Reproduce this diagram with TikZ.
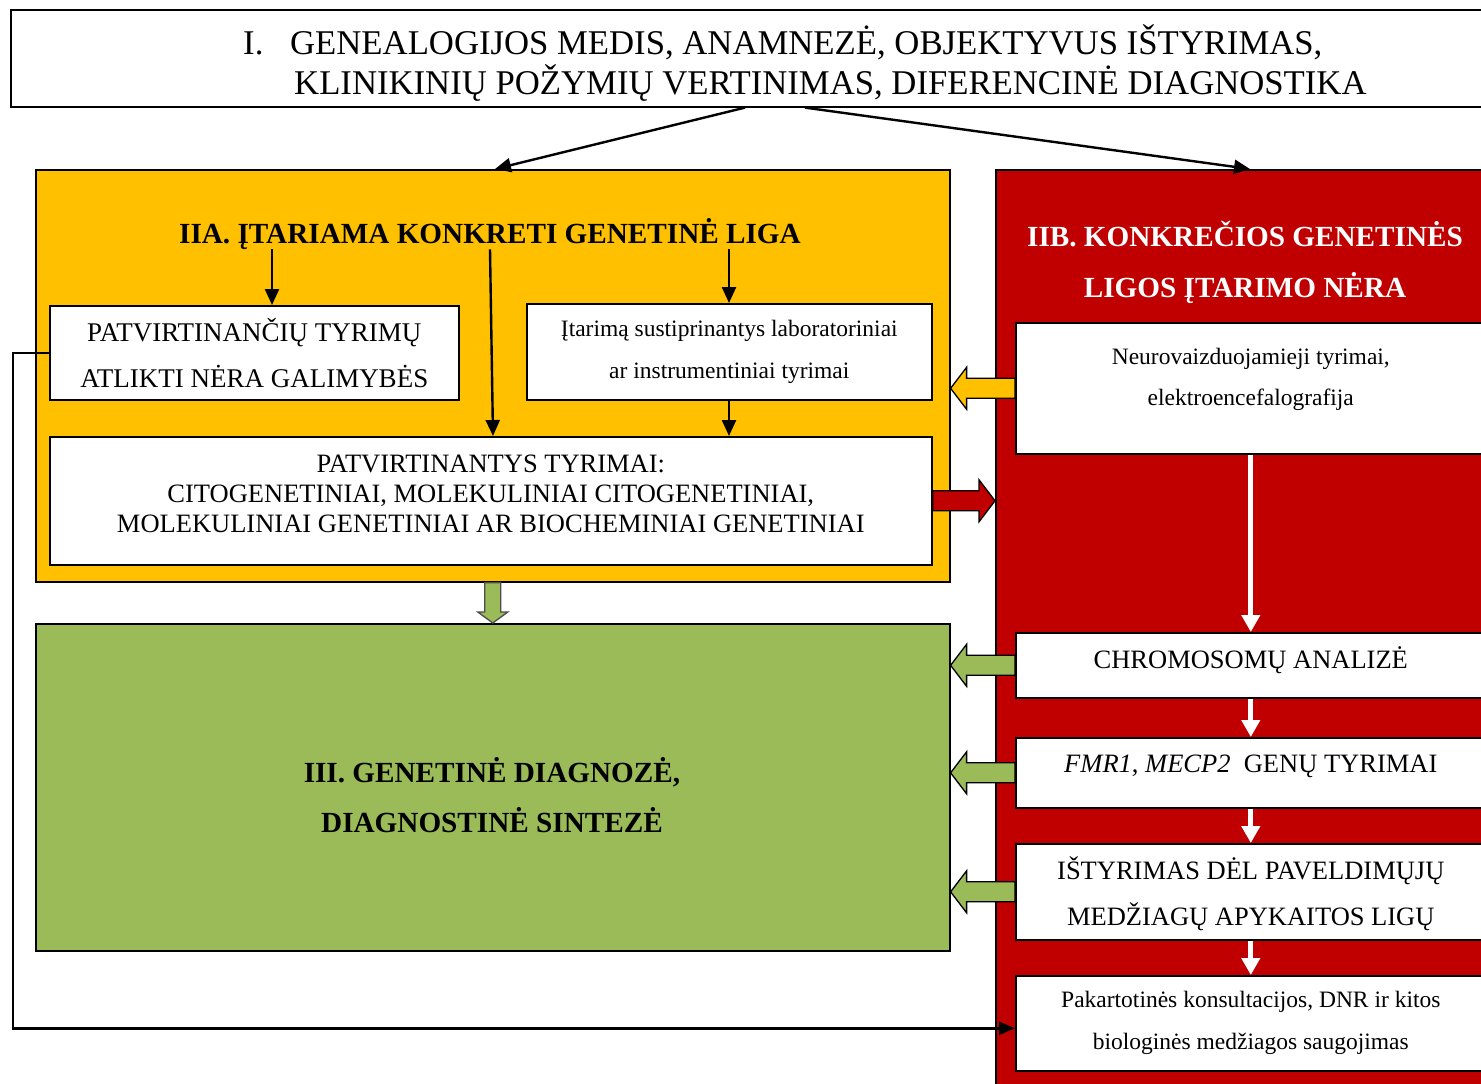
\documentclass[tikz,border=0pt]{standalone}
\usepackage{fontspec}
\setmainfont{Liberation Serif}
\usetikzlibrary{arrows.meta,positioning,calc}
\definecolor{ylw}{HTML}{FFC000}
\definecolor{rd}{HTML}{C00000}
\definecolor{grn}{HTML}{9BBB59}
\newcommand{\fs}[2]{\fontsize{#1pt}{#2pt}\selectfont}
\newcommand{\rows}[1]{\begin{tabular}[t]{@{}c@{}}#1\end{tabular}}
% block arrow: start, tip, colour, side (1 = points left, -1 = points right)
\newcommand{\hblock}[4]{%
  \draw[gblock, fill=#3] ($(#1)+(0,-10)$) -- ($(#2)+(#4*16,-10)$) -- ($(#2)+(#4*16,-21)$)
    -- (#2) -- ($(#2)+(#4*16,21)$) -- ($(#2)+(#4*16,10)$) -- ($(#1)+(0,10)$) -- cycle;}
\tikzset{
  gbox/.style={draw, line width=1.6pt, rectangle, anchor=north west, inner sep=0pt},
  gtext/.style={inner sep=0pt, anchor=base},
  garrow/.style={-{Triangle[length=16pt, width=14pt]}, line width=2.4pt},
  gwarrow/.style={-{Triangle[length=17pt, width=18pt]}, line width=5pt, white},
  gblock/.style={draw, line width=1.3pt, line join=miter},
}
\begin{document}
\begin{tikzpicture}[x=1pt, y=-1pt]
  \useasboundingbox (0,0) rectangle (1481,1084);
  \clip (0,0) rectangle (1481,1084);

  % stage I
  \node[gbox, minimum width=1490pt, minimum height=97pt] (diag) at (10,9) {};
  \node[gtext, anchor=base west, font=\fs{34.7}{37}] (diagtxt) at (243,54)
    {\begin{tabular}[t]{@{}p{47pt}@{}l@{}}
      I. & GENEALOGIJOS MEDIS, ANAMNEZĖ, OBJEKTYVUS IŠTYRIMAS,\\
         & \hspace{4pt}KLINIKINIŲ POŽYMIŲ VERTINIMAS, DIFERENCINĖ DIAGNOSTIKA
     \end{tabular}};

  % stage II and III frames
  \node[gbox, fill=ylw, minimum width=914pt, minimum height=412pt] (iia) at (35,169) {};
  \node[gbox, fill=rd, minimum width=500pt, minimum height=930pt] (iib) at (995,169) {};
  \node[gbox, fill=grn, minimum width=914pt, minimum height=327pt] (iii) at (35,623) {};

  \node[gtext, font=\bfseries\fs{29.2}{35}] (iatxt) at (490,243)
    {IIA. ĮTARIAMA KONKRETI GENETINĖ LIGA};
  \node[gtext, text=white, font=\bfseries\fs{29.2}{51}] (iibtxt) at (1245,246)
    {\rows{IIB. KONKREČIOS GENETINĖS\\ LIGOS ĮTARIMO NĖRA}};
  \node[gtext, font=\bfseries\fs{29.2}{50}] (iiitxt) at (492,782)
    {\rows{III. GENETINĖ DIAGNOZĖ,\\ DIAGNOSTINĖ SINTEZĖ}};

  % boxes in IIA
  \node[gbox, fill=white, minimum width=409pt, minimum height=94pt] (pnera) at (49,305) {};
  \node[gbox, fill=white, minimum width=405pt, minimum height=96pt] (itar) at (526,303) {};
  \node[gbox, fill=white, minimum width=882pt, minimum height=128pt] (patv) at (49,436) {};
  \node[gtext, font=\fs{27}{46}] (pneratxt) at (pnera.center |- 0,341)
    {\rows{PATVIRTINANČIŲ TYRIMŲ\\ ATLIKTI NĖRA GALIMYBĖS}};
  \node[gtext, font=\fs{23.5}{42}] (itartxt) at (itar.center |- 0,336)
    {\rows{Įtarimą sustiprinantys laboratoriniai\\ ar instrumentiniai tyrimai}};
  \node[gtext, font=\fs{26.5}{30}] (patvtxt) at (patv.center |- 0,472)
    {\rows{PATVIRTINANTYS TYRIMAI:\\ CITOGENETINIAI, MOLEKULINIAI CITOGENETINIAI,\\
      MOLEKULINIAI GENETINIAI AR BIOCHEMINIAI GENETINIAI}};

  % boxes in IIB
  \node[gbox, fill=white, minimum width=470pt, minimum height=131pt] (neuro) at (1015,322) {};
  \node[gbox, fill=white, minimum width=470pt, minimum height=65pt] (chrom) at (1015,632) {};
  \node[gbox, fill=white, minimum width=470pt, minimum height=70pt] (genu) at (1015,737) {};
  \node[gbox, fill=white, minimum width=470pt, minimum height=96pt] (istyr) at (1015,843) {};
  \node[gbox, fill=white, minimum width=470pt, minimum height=95pt] (pakart) at (1015,975) {};
  \node[gtext, font=\fs{23.5}{41}] (neurotxt) at (neuro.center |- 0,364)
    {\rows{Neurovaizduojamieji tyrimai,\\ elektroencefalografija}};
  \node[gtext, font=\fs{26.5}{46}] (chromtxt) at (chrom.center |- 0,668)
    {CHROMOSOMŲ ANALIZĖ};
  \node[gtext, font=\fs{26.5}{46}] (genutxt) at (genu.center |- 0,772)
    {\textit{FMR1}, \textit{MECP2}\ \ GENŲ TYRIMAI};
  \node[gtext, font=\fs{26.5}{46}] (istyrtxt) at (istyr.center |- 0,879)
    {\rows{IŠTYRIMAS DĖL PAVELDIMŲJŲ\\ MEDŽIAGŲ APYKAITOS LIGŲ}};
  \node[gtext, font=\fs{23.5}{42}] (pakarttxt) at (pakart.center |- 0,1007)
    {\rows{Pakartotinės konsultacijos, DNR ir kitos\\ biologinės medžiagos saugojimas}};

  % connectors
  \draw[garrow] (diag.south -| 745,0) -- (iia.north -| 495,0);
  \draw[garrow] (diag.south -| 805,0) -- (iib.north -| 1250,0);
  \draw[garrow] (iatxt.south -| 272,0) -- (pnera.north -| 272,0);
  \draw[garrow] (iatxt.south -| 490,0) -- (patv.north -| 493,0);
  \draw[garrow] (iatxt.south -| 729,0) -- (itar.north -| 729,0);
  \draw[garrow] (itar.south -| 729,0) -- (patv.north -| 729,0);

  \draw[gwarrow] (neuro.south) -- (chrom.north);
  \draw[gwarrow] (chrom.south) -- (genu.north);
  \draw[gwarrow] (genu.south) -- (istyr.north);
  \draw[gwarrow] (istyr.south) -- (pakart.north);

  \hblock{neuro.west}{iia.east |- neuro.west}{ylw}{1}
  \hblock{patv.east}{iib.west |- patv.east}{rd}{-1}
  \hblock{chrom.west}{iii.east |- chrom.west}{grn}{1}
  \hblock{genu.west}{iii.east |- genu.west}{grn}{1}
  \hblock{istyr.west}{iii.east |- istyr.west}{grn}{1}
  \draw[gblock, draw=black!70, fill=grn] ($(iia.south)+(-8,0)$) -- ($(iii.north)+(-8,-11)$)
    -- ($(iii.north)+(-15,-11)$) -- (iii.north) -- ($(iii.north)+(15,-11)$)
    -- ($(iii.north)+(8,-11)$) -- ($(iia.south)+(8,0)$) -- cycle;

  \draw[garrow, -{Triangle[length=16pt, width=13pt]}]
    (pnera.west) -- ++(-36,0) |- ([yshift=-5pt]pakart.west);
\end{tikzpicture}
\end{document}
